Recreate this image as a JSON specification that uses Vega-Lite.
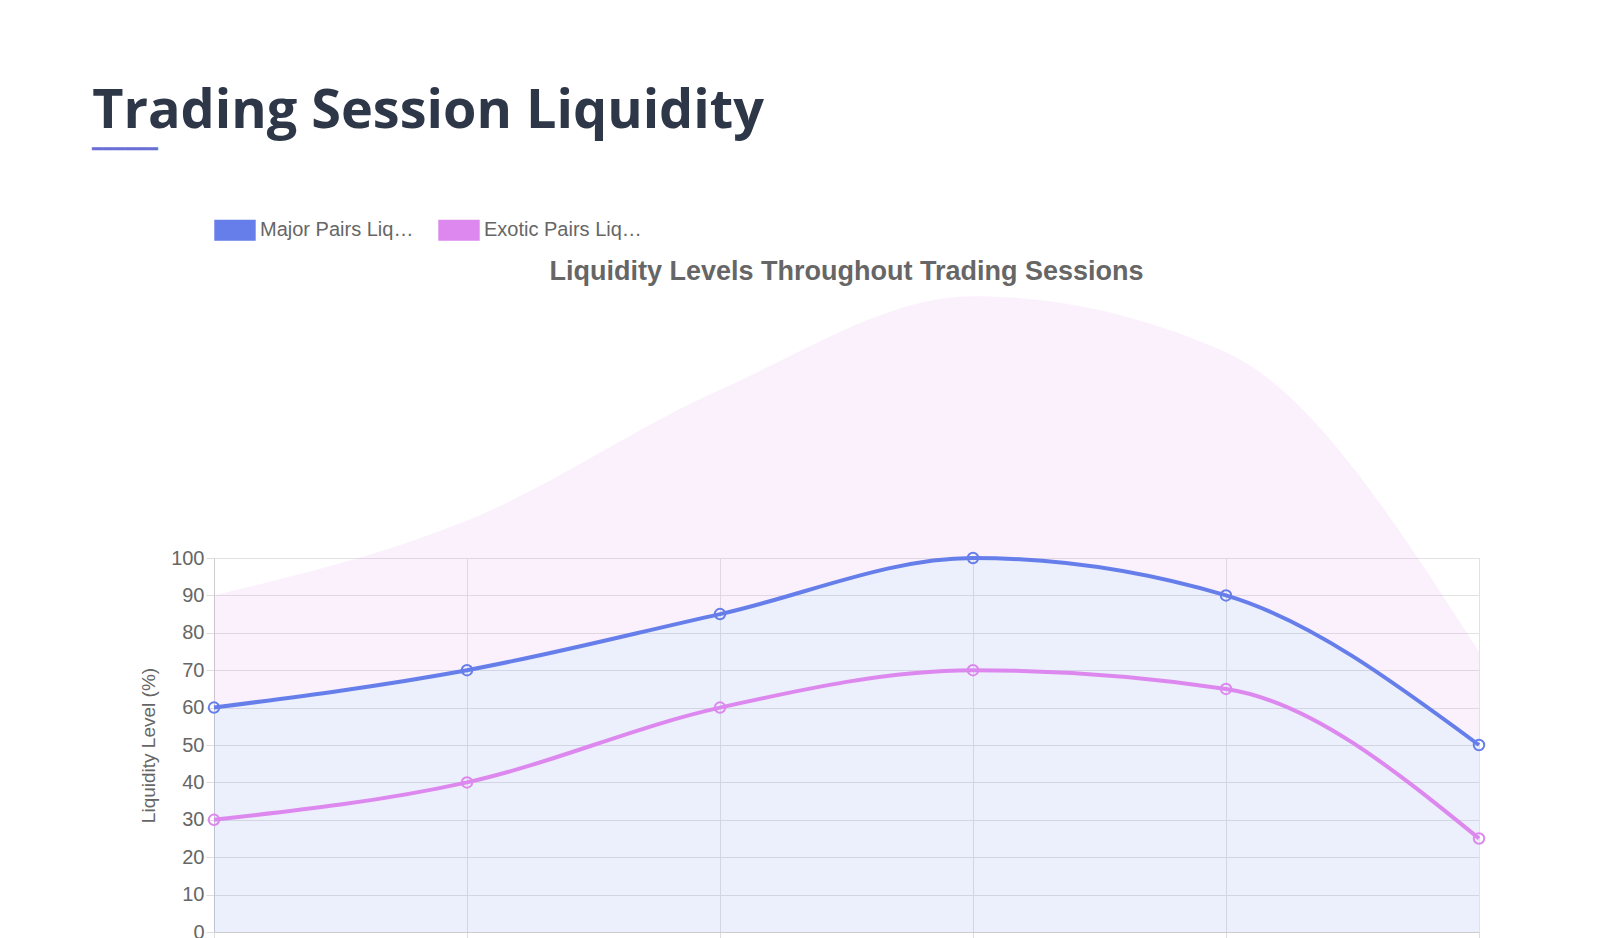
{
  "$schema": "https://vega.github.io/schema/vega-lite/v6.json",
  "background": "#ffffff",
  "padding": {"left": 92, "top": 85, "right": 60, "bottom": 20},
  "title": {
    "text": "Trading Session Liquidity",
    "subtitle": "━━━━━━",
    "anchor": "start",
    "dx": -47,
    "font": "Open Sans",
    "fontSize": 54,
    "fontWeight": "bold",
    "color": "#2d3748",
    "subtitleColor": "#6a6fd6",
    "subtitleFontSize": 18,
    "subtitlePadding": 2,
    "offset": 50
  },
  "config": {
    "font": "Liberation Sans",
    "view": {"stroke": "#dddddd"},
    "axis": {"gridColor": "#e2e2e2", "domainColor": "#cccccc", "tickColor": "#dddddd", "labelColor": "#666666", "titleColor": "#666666", "labelFontSize": 20, "titleFontSize": 19, "titleFontWeight": "normal"}
  },
  "data": {"values": [
    {"session": "Asian Open", "series": "Major Pairs Liquidity", "v": 60},
    {"session": "Asian Mid", "series": "Major Pairs Liquidity", "v": 70},
    {"session": "European Open", "series": "Major Pairs Liquidity", "v": 85},
    {"session": "London-NY Overlap", "series": "Major Pairs Liquidity", "v": 100},
    {"session": "NY Session", "series": "Major Pairs Liquidity", "v": 90},
    {"session": "NY Close", "series": "Major Pairs Liquidity", "v": 50},
    {"session": "Asian Open", "series": "Exotic Pairs Liquidity", "v": 30},
    {"session": "Asian Mid", "series": "Exotic Pairs Liquidity", "v": 40},
    {"session": "European Open", "series": "Exotic Pairs Liquidity", "v": 60},
    {"session": "London-NY Overlap", "series": "Exotic Pairs Liquidity", "v": 70},
    {"session": "NY Session", "series": "Exotic Pairs Liquidity", "v": 65},
    {"session": "NY Close", "series": "Exotic Pairs Liquidity", "v": 25}
  ]},
  "vconcat": [{
    "width": 1265,
    "height": 374,
    "title": {"text": "Liquidity Levels Throughout Trading Sessions", "fontSize": 27, "fontWeight": "bold", "color": "#666666", "anchor": "middle", "offset": 10},
    "encoding": {
      "x": {"field": "session", "type": "ordinal", "sort": null, "scale": {"type": "point", "padding": 0}, "title": null,
        "axis": {"labelAngle": 0, "grid": true, "labelPadding": 10, "tickSize": 8}},
      "y": {"field": "v", "type": "quantitative", "scale": {"domain": [0, 100]}, "title": "Liquidity Level (%)",
        "axis": {"tickCount": 10, "titlePadding": 12, "tickSize": 8}},
      "color": {"field": "series", "type": "nominal", "sort": null,
        "scale": {"domain": ["Major Pairs Liquidity", "Exotic Pairs Liquidity"], "range": ["#667eea", "#dd88ee"]},
        "legend": {"orient": "top", "title": null, "direction": "horizontal", "labelFontSize": 20, "labelColor": "#666666",
          "symbolType": "M-1,-0.45H1V0.45H-1Z", "symbolSize": 1400, "symbolStrokeWidth": 4, "symbolFillColor": "#ece8f8", "symbolOpacity": 1, "columnPadding": 18, "offset": 10}}
    },
    "layer": [
      {"mark": {"type": "area", "interpolate": "monotone", "opacity": 0.12}},
      {"mark": {"type": "line", "interpolate": "monotone", "strokeWidth": 4}},
      {"mark": {"type": "point", "filled": false, "size": 110, "strokeWidth": 2, "opacity": 1}}
    ]
  }]
}
